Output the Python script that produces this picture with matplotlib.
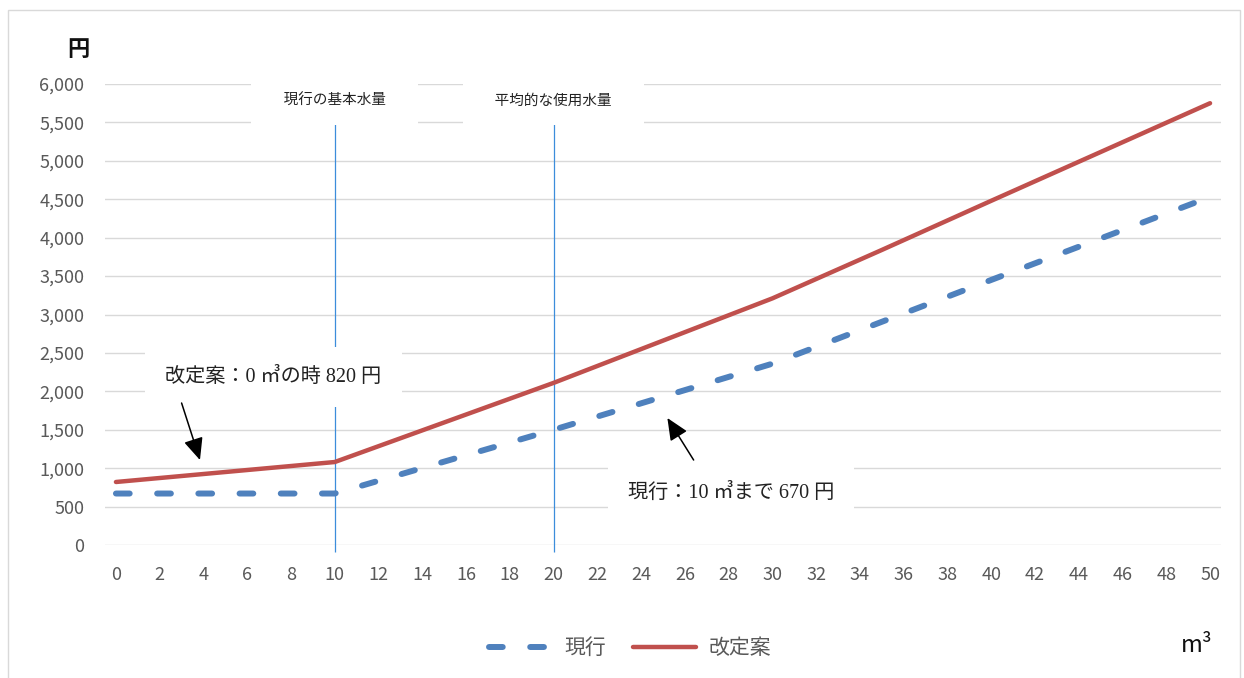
import matplotlib
matplotlib.use("Agg")
import matplotlib.pyplot as plt
from matplotlib.patches import Rectangle
from matplotlib.ticker import MultipleLocator, StrMethodFormatter

plt.rcParams["font.family"] = ["Noto Sans CJK JP", "DejaVu Sans"]

# 使用水量 (㎥) ごとの料金 (円)：折れ点のみ
current_m3 = [0, 10, 20, 30, 40, 50]
current_yen = [670, 670, 1500, 2360, 3450, 4530]
revised_m3 = [0, 10, 20, 30, 35, 40, 50]
revised_yen = [820, 1080, 2110, 3210, 3840, 4480, 5750]

series_names = ["現行", "改定案"]
guide_m3 = [10, 20]
guide_labels = ["現行の基本水量", "平均的な使用水量"]

GRAY = "#595959"
BLUE = "#4F81BD"
RED = "#C0504D"
GUIDE = "#3C8DDB"
SERIF_MIX = ["Liberation Serif", "Noto Sans CJK JP"]
ARROW = dict(arrowstyle="-|>,head_length=0.9,head_width=0.4", mutation_scale=15,
             color="black", lw=1.1, shrinkA=0, shrinkB=0)
WHITE_BOX = dict(boxstyle="square,pad=1.0", fc="white", ec="none")

fig = plt.figure(figsize=(12.44, 6.78), dpi=100)
fig.patches.append(Rectangle((8 / 1244, -0.01), 1232 / 1244, 1 - 10 / 678 + 0.01,
                             transform=fig.transFigure, fill=False,
                             edgecolor="#D9D9D9", lw=1))

ax = fig.add_axes([105 / 1244, 1 - 545 / 678, 1116 / 1244, 461 / 678])

ax.plot(current_m3, current_yen, color=BLUE, lw=4.3, linestyle=(0, (2.3, 4.6)),
        dash_capstyle="round", label=series_names[0], zorder=4)
ax.plot(revised_m3, revised_yen, color=RED, lw=3.2, solid_capstyle="round",
        label=series_names[1], zorder=4)

ax.vlines(guide_m3, -90, 5530, colors=GUIDE, lw=0.9, zorder=2, clip_on=False)
for x, label in zip(guide_m3, guide_labels):
    ax.text(x, 5780, "\u3000" + label + "\u3000", ha="center", va="center",
            fontsize=10.5, color="#222222",
            bbox=dict(boxstyle="square,pad=1.2", fc="white", ec="none"), zorder=5)

# 吹き出し文と矢印
ax.text(7.2, 2187, "改定案：0 ㎥の時 820 円", ha="center", va="center",
        fontsize=14.5, family=SERIF_MIX, color="#222222", bbox=WHITE_BOX, zorder=5)
ax.annotate("", xy=(3.84, 1106), xytext=(3.0, 1848), arrowprops=ARROW, zorder=6)

ax.text(28.1, 680, "現行：10 ㎥まで 670 円", ha="center", va="center",
        fontsize=14.5, family=SERIF_MIX, color="#222222", bbox=WHITE_BOX, zorder=5)
ax.annotate("", xy=(25.2, 1653), xytext=(26.4, 1106), arrowprops=ARROW, zorder=6)

ax.set_xlim(-0.5, 50.5)
ax.set_ylim(0, 6000)
ax.xaxis.set_major_locator(MultipleLocator(2))
ax.yaxis.set_major_locator(MultipleLocator(500))
ax.yaxis.set_major_formatter(StrMethodFormatter("{x:,.0f}"))
ax.grid(axis="y", color="#D9D9D9", lw=1)
ax.set_axisbelow(True)
for side in ax.spines.values():
    side.set_visible(False)
ax.tick_params(axis="both", length=0, colors=GRAY, labelsize=13)
ax.tick_params(axis="y", pad=15)
ax.tick_params(axis="x", pad=15)

fig.text(78 / 1244, 1 - 49 / 678, "円", ha="center", va="center", fontsize=16,
         fontweight="bold", color="#111111")
fig.text(1197 / 1244, 1 - 645 / 678, "m³", ha="center", va="center", fontsize=17,
         color="#111111")

fig.legend(loc="center", bbox_to_anchor=(630 / 1244, 1 - 648 / 678), ncol=2,
           frameon=False, fontsize=15, labelcolor=GRAY, handlelength=3.0,
           handletextpad=0.6, columnspacing=1.3)

fig.savefig("out.png", dpi=100)
